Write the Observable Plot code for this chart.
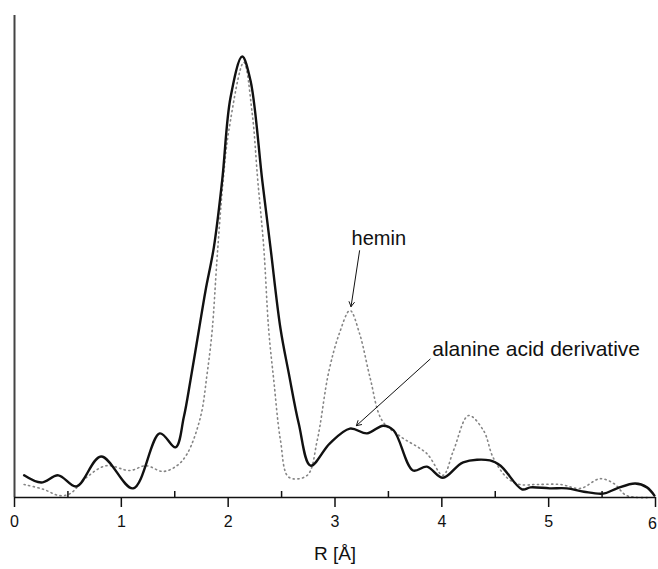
<!DOCTYPE html>
<html><head><meta charset="utf-8">
<script src="https://cdn.jsdelivr.net/npm/d3@7"></script>
<script src="https://cdn.jsdelivr.net/npm/@observablehq/plot@0.6"></script>
<style>
body{margin:0;background:#fff;}
#chart svg{font-family:"Liberation Sans",Arial,sans-serif;}
</style>
</head><body><div id="chart"></div>
<script>
// Fourier transform magnitude vs R [Å] (arbitrary units)
const alanineR   = [0.09,0.25,0.41,0.58,0.81,1.11,1.36,1.507,1.585,1.647,1.725,1.788,1.866,1.944,2.022,2.131,2.209,2.319,2.396,2.49,2.568,2.661,2.771,2.95,3.14,3.30,3.45,3.55,3.73,3.86,4.01,4.20,4.45,4.55,4.75,4.83,5.01,5.17,5.33,5.51,5.64,5.81,5.92,5.99];
const alanineAmp = [0.46,0.31,0.46,0.23,0.85,0.19,1.33,1.04,1.67,2.43,3.46,4.29,5.19,6.58,8.30,9.15,8.65,6.58,5.19,3.50,2.57,1.53,0.66,1.12,1.43,1.33,1.49,1.39,0.56,0.64,0.41,0.73,0.77,0.66,0.17,0.21,0.19,0.19,0.12,0.08,0.19,0.29,0.21,0.04];
const heminR     = [0.09,0.27,0.42,0.52,0.67,0.86,1.08,1.23,1.39,1.52,1.617,1.741,1.803,1.85,1.897,1.953,2.006,2.146,2.225,2.277,2.333,2.38,2.427,2.49,2.568,2.74,2.833,2.94,3.04,3.14,3.23,3.33,3.44,3.61,3.86,4.01,4.11,4.25,4.39,4.48,4.61,4.73,4.89,5.11,5.30,5.48,5.61,5.73,5.95];
const heminAmp   = [0.27,0.17,0.04,0.08,0.41,0.66,0.56,0.66,0.54,0.66,0.91,1.67,2.57,3.46,4.99,6.58,7.61,9.03,7.97,6.58,5.19,3.46,2.43,1.18,0.42,0.46,1.18,2.59,3.40,3.88,3.40,2.47,1.60,1.27,0.91,0.46,0.98,1.70,1.39,0.83,0.41,0.27,0.27,0.27,0.19,0.39,0.29,0.04,0.00];
const majorTicks = [0,1,2,3,4,5,6];
const minorTicks = [0.5,1.5,2.5,3.5,4.5,5.5];
const xLabel = "R [Å]";
const labelNames = ["hemin","alanine acid derivative"];
const labelR     = [3.41,3.91];
const labelAmp   = [5.37,3.07];
const arrowFromR = [3.23,3.89];
const arrowFromA = [5.12,2.87];
const arrowToR   = [3.15,3.20];
const arrowToA   = [3.96,1.49];

const alanine = alanineR.map((r,i)=>({r, a: alanineAmp[i]}));
const hemin = heminR.map((r,i)=>({r, a: heminAmp[i]}));
const labels = labelNames.map((t,i)=>({t, r: labelR[i], a: labelAmp[i]}));
const arrows = arrowFromR.map((r,i)=>({x1:r, y1:arrowFromA[i], x2:arrowToR[i], y2:arrowToA[i]}));
const lastTick = majorTicks[majorTicks.length-1];

const chart = Plot.plot({
  width: 658, height: 569,
  marginLeft: 14, marginRight: 3, marginTop: 15, marginBottom: 72,
  style: {fontFamily: '"Liberation Sans",Arial,sans-serif', background: "#fff", color: "#111"},
  x: {domain: [0, 6]},
  y: {domain: [0, 10], axis: null},
  marks: [
    Plot.line(hemin, {x: "r", y: "a", curve: "catmull-rom", stroke: "#858585", strokeWidth: 1.6, strokeDasharray: "1.2,3.5"}),
    Plot.line(alanine, {x: "r", y: "a", curve: "catmull-rom", stroke: "#111", strokeWidth: 2.4}),
    Plot.ruleX([0], {stroke: "#444", strokeWidth: 2}),
    Plot.ruleY([0], {stroke: "#111", strokeWidth: 1.5}),
    Plot.axisX(majorTicks, {tickSize: 10, tickPadding: 8, fontSize: 16, label: null, tickFormat: d => d === lastTick ? "" : String(d), stroke: "#111", strokeWidth: 1.5}),
    Plot.text([lastTick], {x: d => d, frameAnchor: "bottom", dy: 26, dx: -3, lineAnchor: "middle", text: d => String(d), fontSize: 16, fill: "#111"}),
    Plot.ruleX(minorTicks, {x: d => d, y1: 0, y2: 0, insetTop: -6, stroke: "#111", strokeWidth: 1.5}),
    Plot.text([xLabel], {text: d => d, frameAnchor: "bottom", dy: 62, fontSize: 19, fill: "#111"}),
    Plot.text(labels.slice(0,1), {x: "r", y: "a", text: "t", textAnchor: "middle", fontSize: 20, fill: "#111"}),
    Plot.text(labels.slice(1), {x: "r", y: "a", text: "t", textAnchor: "start", fontSize: 21, fill: "#111"}),
    Plot.arrow(arrows, {x1: "x1", y1: "y1", x2: "x2", y2: "y2", stroke: "#111", strokeWidth: 1, headLength: 8})
  ]
});
document.getElementById("chart").appendChild(chart);
</script>
</body></html>
